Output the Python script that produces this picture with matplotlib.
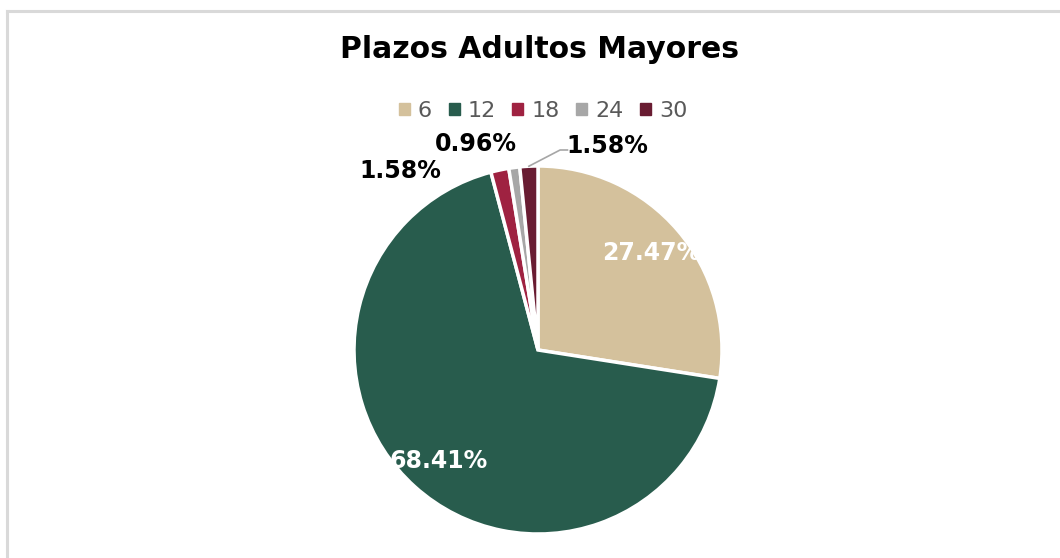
import matplotlib.pyplot as plt
import numpy as np
from matplotlib.lines import Line2D

plazos = ['6', '12', '18', '24', '30']
porcentajes = [27.47, 68.41, 1.58, 0.96, 1.58]
colores = ['#D4C19C', '#285C4D', '#9F2241', '#A7A7A7', '#691C32']

fig = plt.figure(figsize=(10.6, 5.58), dpi=100)

# light frame (cut at right and bottom like the source screenshot)
fig.add_artist(Line2D([7 / 1060, 7 / 1060], [0, 1 - 10.5 / 558], color='#D9D9D9', lw=2.2))
fig.add_artist(Line2D([7 / 1060, 1], [1 - 10.5 / 558, 1 - 10.5 / 558], color='#D9D9D9', lw=2.2))

cx, cy, r = 538, 350, 184
ax = fig.add_axes([(cx - r) / 1060, (558 - cy - r) / 558, 2 * r / 1060, 2 * r / 558])
wedges, _ = ax.pie(porcentajes, colors=colores, startangle=90, counterclock=False,
                   wedgeprops=dict(edgecolor='white', linewidth=2.5))
ax.set_xlim(-1, 1)
ax.set_ylim(-1, 1)
ax.set_aspect('auto')
ax.axis('off')

lbl_font = dict(fontsize=17, fontweight='bold', ha='center', va='center', family='DejaVu Sans')
# inside labels
for i in (0, 1):
    w = wedges[i]
    ang = np.deg2rad((w.theta1 + w.theta2) / 2)
    ax.text(0.81 * np.cos(ang), 0.81 * np.sin(ang), f'{porcentajes[i]:.2f}%', color='white', **lbl_font)

# outside labels for the thin slices
ax.text(-0.75, 0.975, f'{porcentajes[2]:.2f}%', color='black', **lbl_font)
ax.text(-0.34, 1.12, f'{porcentajes[3]:.2f}%', color='black', **lbl_font)
ax.text(0.375, 1.11, f'{porcentajes[4]:.2f}%', color='black', **lbl_font)
w = wedges[4]
ang = np.deg2rad((w.theta1 + w.theta2) / 2)
ax.plot([np.cos(ang), 0.12, 0.16], [np.sin(ang), 1.087, 1.087], color='#A6A6A6', lw=1.2,
        clip_on=False)

handles = [plt.Rectangle((0, 0), 1, 1, color=c) for c in colores]
fig.legend(handles, plazos, loc='center', bbox_to_anchor=(543 / 1060, 1 - 111 / 558), ncol=5,
           frameon=False, handlelength=0.5, handleheight=0.5, handletextpad=0.35,
           columnspacing=0.75, prop={'size': 16}, labelcolor='#595959')

fig.text(539 / 1060, 1 - 50 / 558, 'Plazos Adultos Mayores', ha='center', va='center',
         fontsize=21.5, fontweight='bold', color='black')

fig.savefig('out.png', dpi=100)
